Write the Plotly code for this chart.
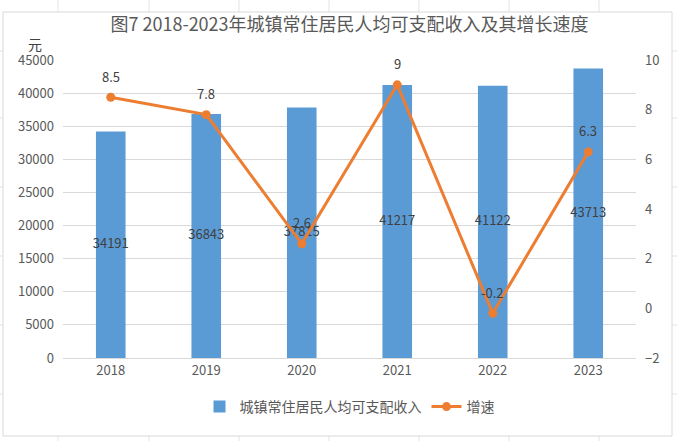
import plotly.graph_objects as go

years = ['2018', '2019', '2020', '2021', '2022', '2023']
income = [34191, 36843, 37815, 41217, 41122, 43713]
growth = [8.5, 7.8, 2.6, 9, -0.2, 6.3]

BAR_COLOR = '#5B9BD5'
LINE_COLOR = '#ED7D31'
TEXT_GREY = '#595959'
LABEL_GREY = '#404040'
FONT = 'Noto Sans CJK SC'

W, H = 677, 441
M = dict(l=63, r=41, t=60, b=83)


def px(x, y):
    # pixel -> paper coords, for the border / sheet lines
    pw = W - M['l'] - M['r']
    ph = H - M['t'] - M['b']
    return (x - M['l']) / pw, 1 - (y - M['t']) / ph


fig = go.Figure()
fig.add_trace(go.Bar(
    x=years, y=income, name='城镇常住居民人均可支配收入',
    marker=dict(color=BAR_COLOR, line=dict(width=0)),
    yaxis='y',
))
# bar labels sit in the middle of each bar
fig.add_trace(go.Scatter(
    x=years, y=[v / 2 for v in income], mode='text',
    text=[str(v) for v in income], textposition='middle center',
    textfont=dict(family=FONT, size=13, color=LABEL_GREY),
    showlegend=False, hoverinfo='skip', yaxis='y',
))
fig.add_trace(go.Scatter(
    x=years, y=growth, name='增速', mode='lines+markers',
    line=dict(color=LINE_COLOR, width=3),
    marker=dict(color=LINE_COLOR, size=9),
    yaxis='y2',
))

# growth labels above the points (x as category index, category axis)
annotations = [dict(text=f'{g:g}', x=i, y=g, xref='x', yref='y2',
                    showarrow=False, yshift=21,
                    font=dict(family=FONT, size=13, color=LABEL_GREY))
               for i, g in enumerate(growth)]

shapes = []
# outer spreadsheet cell lines
for xp in [58, 149, 239, 329, 419, 509, 599]:
    for y0, y1 in [(0, 12), (436, 441)]:
        a0 = px(xp, y0)
        a1 = px(xp, y1)
        shapes.append(dict(type='line', xref='paper', yref='paper',
                           x0=a0[0], y0=a0[1], x1=a1[0], y1=a1[1],
                           line=dict(color='#e3e3e3', width=1)))
for yp in [51, 118, 187, 256, 325, 394]:
    for x0, x1 in [(0, 3), (672, 677)]:
        a0 = px(x0, yp)
        a1 = px(x1, yp)
        shapes.append(dict(type='line', xref='paper', yref='paper',
                           x0=a0[0], y0=a0[1], x1=a1[0], y1=a1[1],
                           line=dict(color='#e3e3e3', width=1)))
b0 = px(3, 12)
b1 = px(672, 436)
shapes.append(dict(type='rect', xref='paper', yref='paper',
                   x0=b0[0], y0=b1[1], x1=b1[0], y1=b0[1],
                   line=dict(color='#d9d9d9', width=1), fillcolor='rgba(0,0,0,0)'))

ux, uy = px(35, 44)
annotations.append(dict(text='元', xref='paper', yref='paper', x=ux, y=uy,
                        xanchor='center', yanchor='middle', showarrow=False,
                        font=dict(size=14, color=LABEL_GREY)))

fig.update_layout(
    width=W, height=H, margin=dict(M, autoexpand=False),
    paper_bgcolor='white', plot_bgcolor='white',
    font=dict(family=FONT, size=13, color=TEXT_GREY),
    title=dict(text='图7 2018-2023年城镇常住居民人均可支配收入及其增长速度',
               x=0.5, xref='paper', yref='container', y=1 - 25 / H, yanchor='middle',
               font=dict(family=FONT, size=18, color=TEXT_GREY)),
    bargap=0.69,
    xaxis=dict(type='category', range=[-0.5, len(years) - 0.5],
               showline=True, linecolor='#d9d9d9', ticks='',
               tickfont=dict(size=13, color=TEXT_GREY)),
    yaxis=dict(range=[0, 45000], dtick=5000, tickformat='d',
               showgrid=True, gridcolor='#d9d9d9',
               zeroline=False, tickfont=dict(size=13, color=TEXT_GREY),
               ticklabelstandoff=8),
    yaxis2=dict(range=[-2, 10], dtick=2, overlaying='y', side='right',
                showgrid=False, zeroline=False,
                tickfont=dict(size=13, color=TEXT_GREY), ticklabelstandoff=8),
    legend=dict(orientation='h', x=0.5, xanchor='center',
                yref='container', y=1 - 407 / H,
                yanchor='middle', font=dict(size=14, color=TEXT_GREY),
                traceorder='normal'),
    shapes=shapes,
    annotations=annotations,
)

fig.write_html('out.html', config=dict(displayModeBar=False),
               post_script="document.body.style.margin='0';")
